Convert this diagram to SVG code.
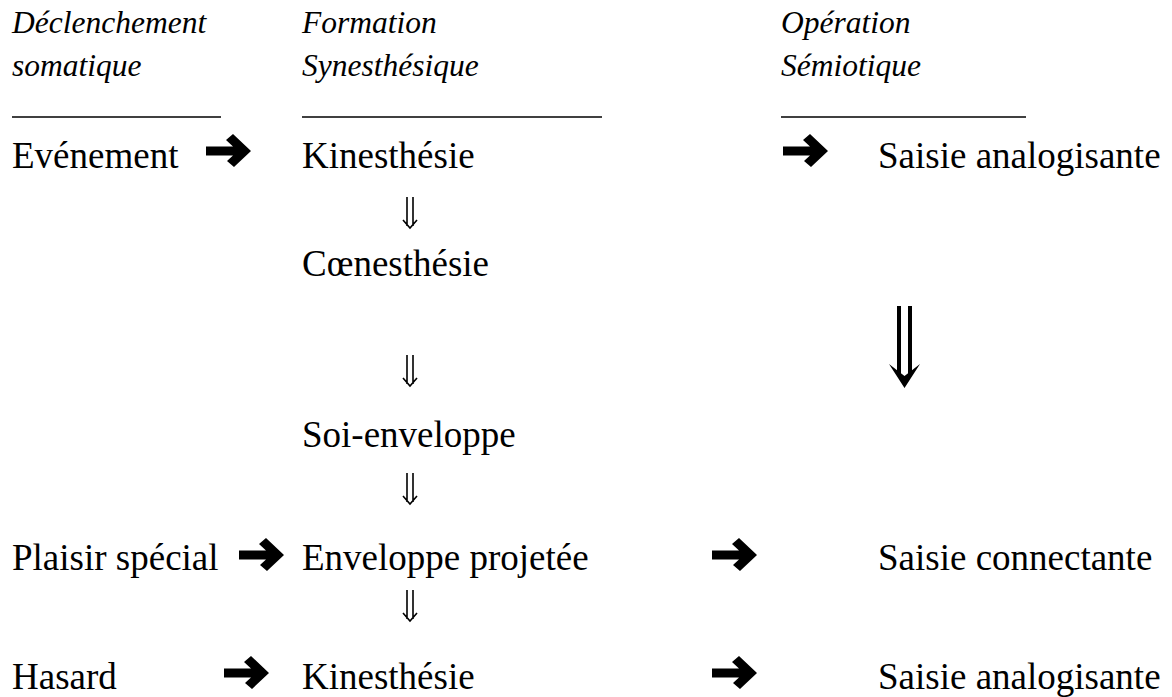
<svg xmlns="http://www.w3.org/2000/svg" width="1172" height="697" viewBox="0 0 1172 697">
<defs>
<style>
.h{font-family:"Liberation Serif","Times New Roman",serif;font-style:italic;font-size:31.5px;fill:#000}
.t{font-family:"Liberation Serif","Times New Roman",serif;font-size:37px;fill:#000}
.ul{stroke:#000;stroke-width:1.5}
.dbl{fill:none;stroke:#000;stroke-width:1.6}
.big{fill:none;stroke:#000;stroke-width:4}
</style>
<path id="ar" d="M0,-4.5 L27,-4.5 L20,-11 L27,-17 L45,0 L28,16 L21,10 L27,4.5 L0,4.5 Z" fill="#000"/>
<g id="dd">
<path class="dbl" d="M-3,0 V29 M3,0 V29 M-7,23 L0,31 L7,23"/>
</g>
</defs>
<rect width="1172" height="697" fill="#fff"/>
<g id="header1"><text class="h" x="12" y="33">Déclenchement</text><text class="h" x="12" y="76">somatique</text><line class="ul" x1="12" y1="117" x2="221" y2="117"/></g>
<g id="header2"><text class="h" x="302" y="33">Formation</text><text class="h" x="302" y="76">Synesthésique</text><line class="ul" x1="302" y1="117" x2="602" y2="117"/></g>
<g id="header3"><text class="h" x="781" y="33">Opération</text><text class="h" x="781" y="76">Sémiotique</text><line class="ul" x1="781" y1="117" x2="1026" y2="117"/></g>
<g id="n-evenement"><text class="t" x="12" y="168">Evénement</text></g>
<g id="n-kin1"><text class="t" x="302" y="168">Kinesthésie</text></g>
<g id="n-saisie1"><text class="t" x="878" y="168">Saisie analogisante</text></g>
<g id="n-coen"><text class="t" x="302" y="276">Cœnesthésie</text></g>
<g id="n-soi"><text class="t" x="302" y="447">Soi-enveloppe</text></g>
<g id="n-plaisir"><text class="t" x="12" y="570">Plaisir spécial</text></g>
<g id="n-envproj"><text class="t" x="302" y="570">Enveloppe projetée</text></g>
<g id="n-saisie2"><text class="t" x="878" y="570">Saisie connectante</text></g>
<g id="n-hasard"><text class="t" x="12" y="689">Hasard</text></g>
<g id="n-kin2"><text class="t" x="302" y="689">Kinesthésie</text></g>
<g id="n-saisie3"><text class="t" x="878" y="689">Saisie analogisante</text></g>
<g id="connectors">
<use href="#ar" x="206" y="151"/>
<use href="#ar" x="783" y="151"/>
<use href="#ar" x="239" y="555"/>
<use href="#ar" x="712" y="555"/>
<use href="#ar" x="224" y="673"/>
<use href="#ar" x="712" y="673"/>
<use href="#dd" x="410" y="197"/>
<use href="#dd" x="410" y="355"/>
<use href="#dd" x="410" y="473"/>
<use href="#dd" x="410" y="590"/>
<path class="big" d="M899,306 V375 M910,306 V375"/>
<path d="M889,364 L904.5,388 L920,364 L904.5,376 Z" fill="#000"/>
</g>
</svg>
